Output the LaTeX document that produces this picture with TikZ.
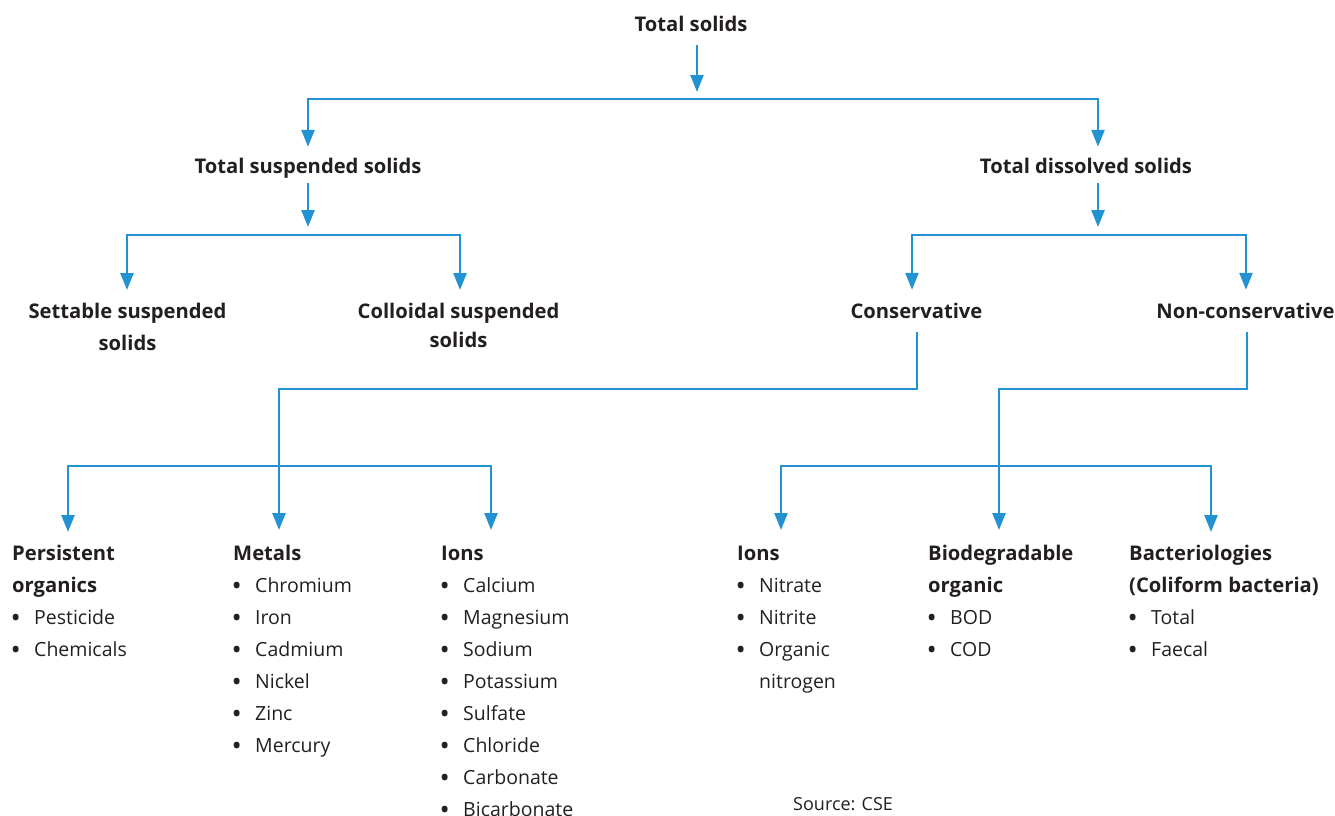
\documentclass[tikz,border=0pt]{standalone}
\usepackage{fontspec}
\setmainfont{Open Sans}
\usetikzlibrary{arrows.meta}
\definecolor{ink}{HTML}{231F20}
\definecolor{flow}{RGB}{34,146,211}
% list bullet and hanging indent
\newcommand\bul{\makebox[22pt][l]{\hspace{-1.5pt}\raisebox{-2.8pt}{\scalebox{1.4}{•}}}}
\newcommand\ind{\hspace*{22pt}}
\newcommand\hfirst{\rule{0pt}{15pt}}
\newcommand\hbf[1]{{\fontsize{20.2}{32}\selectfont\bfseries #1}}

\begin{document}
\begin{tikzpicture}[x=1pt,y=-1pt,
  every node/.style={inner sep=0pt, text=ink, font=\fontsize{19.5}{32}\selectfont},
  hd/.style={font=\fontsize{20.2}{32}\selectfont\bfseries, text height=15pt, text depth=5pt},
  hdtwo/.style={font=\fontsize{20.2}{32}\selectfont\bfseries, align=center, anchor=north},
  lst/.style={align=left, anchor=north west},
  wire/.style={draw=flow, line width=2.5pt, line join=miter},
  arr/.style={wire, -{Triangle[width=13pt,length=17pt]}},
  arrs/.style={wire, {Triangle[width=13pt,length=17pt]}-{Triangle[width=13pt,length=17pt]}}]
\useasboundingbox (0,0) rectangle (1335,815);

% headings
\node[hd, anchor=base] (ts) at (691,31) {Total solids};
\node[hd, anchor=base] (tss) at (308,173) {Total suspended solids};
\node[hd, anchor=base] (tds) at (1086,173) {Total dissolved solids};
\node[hdtwo] (sss) at (127.5,303) {\hfirst Settable suspended\\solids};
\node[hdtwo] (css) at (458.5,303) {\hfirst Colloidal suspended\\[-3pt]solids};
\node[hd, anchor=base] (cons) at (916.5,318) {Conservative};
\node[hd, anchor=base] (ncons) at (1245.5,318) {Non-conservative};

% lists
\node[lst] (po) at (12,545) {\hfirst\hbf{Persistent}\\\hbf{organics}\\\bul Pesticide\\\bul Chemicals};
\node[lst] (met) at (233,545) {\hfirst\hbf{Metals}\\\bul Chromium\\\bul Iron\\\bul Cadmium\\\bul Nickel\\\bul Zinc\\\bul Mercury};
\node[lst] (ionA) at (441,545) {\hfirst\hbf{Ions}\\\bul Calcium\\\bul Magnesium\\\bul Sodium\\\bul Potassium\\\bul Sulfate\\\bul Chloride\\\bul Carbonate\\\bul Bicarbonate};
\node[lst] (ionB) at (737,545) {\hfirst\hbf{Ions}\\\bul Nitrate\\\bul Nitrite\\\bul Organic\\\ind nitrogen};
\node[lst] (bio) at (928,545) {\hfirst\hbf{Biodegradable}\\\hbf{organic}\\\bul BOD\\\bul COD};
\node[lst] (bac) at (1129,545) {\hfirst\hbf{Bacteriologies}\\\hbf{(Coliform bacteria)}\\\bul Total\\\bul Faecal};
\node[anchor=base west, font=\fontsize{18}{20}\selectfont] (src) at (793,810) {Source: CSE};

% junction points
\coordinate (b0) at (697,99);
\coordinate (b0L) at (308,99);
\coordinate (b0R) at (1098,99);
\coordinate (b1L) at (127,235);
\coordinate (b1R) at (460,235);
\coordinate (c1) at (1098,235);
\coordinate (b2L) at (912,235);
\coordinate (b2R) at (1246,235);
\coordinate (k1) at (917,389);
\coordinate (k2) at (279,389);
\coordinate (m1) at (68,466);
\coordinate (m2) at (491,466);
\coordinate (n1) at (1247,389);
\coordinate (n2) at (999,389);
\coordinate (p1) at (781,466);
\coordinate (p2) at (1211,466);

% connectors
\draw[arr, shorten <=9pt, shorten >=7pt] (ts.south -| b0) -- (b0);
\draw[arrs, shorten <=11pt, shorten >=11pt] (tss.north -| b0L) -- (b0L) -- (b0R) -- (tds.north -| b0R);

\draw[arr, shorten <=5pt, shorten >=8pt] (tss.south) -- (tss.south |- b1L);
\draw[arrs, shorten <=13pt, shorten >=13pt] (sss.north -| b1L) -- (b1L) -- (b1R) -- (css.north -| b1R);

\draw[arr, shorten <=5pt, shorten >=8pt] (tds.south -| c1) -- (c1);
\draw[arrs, shorten <=13pt, shorten >=13pt] (cons.north -| b2L) -- (b2L) -- (b2R) -- (ncons.north -| b2R);

\draw[arr, shorten <=9pt, shorten >=15pt] (cons.south -| k1) -- (k1) -- (k2) -- (k2 |- met.north);
\draw[arrs, shorten <=13pt, shorten >=15pt] (po.north -| m1) -- (m1) -- (m2) -- (ionA.north -| m2);

\draw[arr, shorten <=9pt, shorten >=15pt] (ncons.south -| n1) -- (n1) -- (n2) -- (n2 |- bio.north);
\draw[arrs, shorten <=15pt, shorten >=13pt] (ionB.north -| p1) -- (p1) -- (p2) -- (bac.north -| p2);
\end{tikzpicture}
\end{document}
